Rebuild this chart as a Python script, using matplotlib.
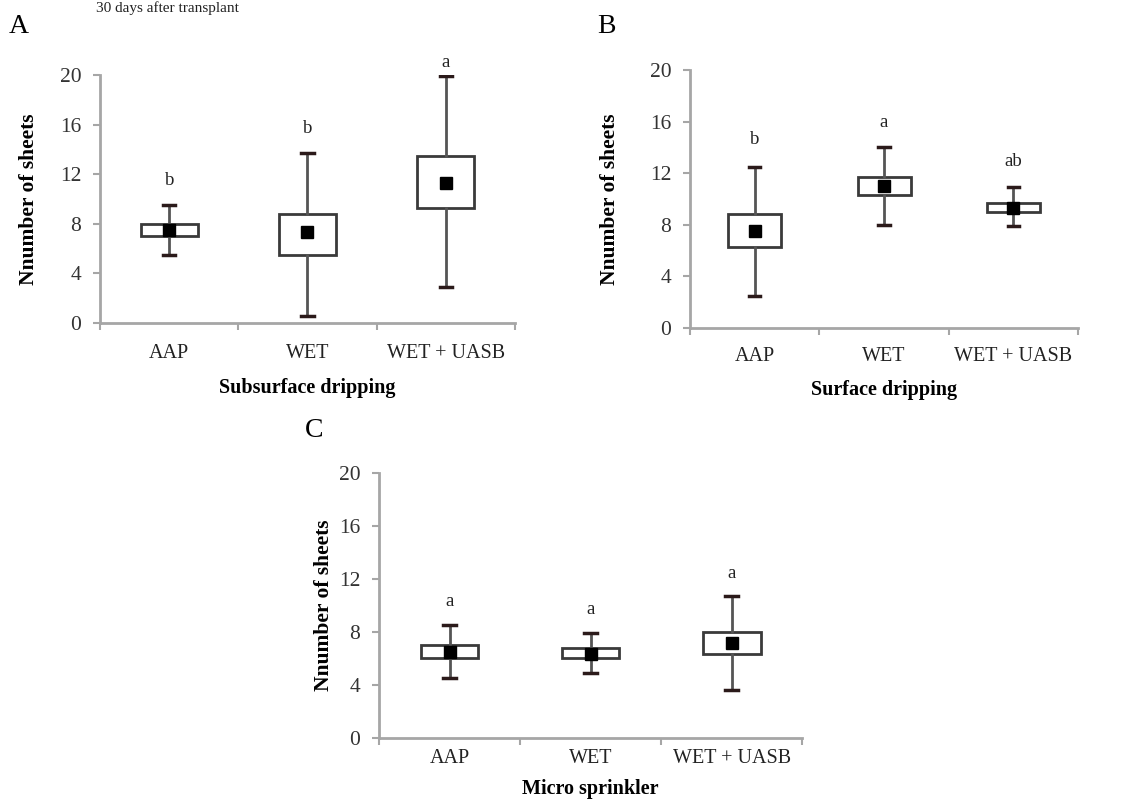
import matplotlib
matplotlib.use("Agg")
import matplotlib.pyplot as plt

# -----------------------------
# DATA
# -----------------------------
categories = ["AAP", "WET", "WET + UASB"]

# panel A - subsurface dripping
a_min = [5.5, 0.6, 2.9]
a_q1 = [7.0, 5.5, 9.3]
a_mean = [7.5, 7.3, 11.3]
a_q3 = [8.0, 8.8, 13.5]
a_max = [9.5, 13.7, 19.9]
a_letters = ["b", "b", "a"]
a_letter_y = [11.5, 15.7, 21.0]

# panel B - surface dripping
b_min = [2.5, 8.0, 7.9]
b_q1 = [6.3, 10.3, 9.0]
b_mean = [7.5, 11.0, 9.3]
b_q3 = [8.8, 11.7, 9.7]
b_max = [12.5, 14.0, 10.9]
b_letters = ["b", "a", "ab"]
b_letter_y = [14.6, 15.9, 12.9]

# panel C - micro sprinkler
c_min = [4.5, 4.9, 3.6]
c_q1 = [6.0, 6.0, 6.3]
c_mean = [6.5, 6.3, 7.2]
c_q3 = [7.0, 6.8, 8.0]
c_max = [8.5, 7.9, 10.7]
c_letters = ["a", "a", "a"]
c_letter_y = [10.3, 9.7, 12.4]

yticks = [0, 4, 8, 12, 16, 20]

SERIF = "Liberation Serif"
GREY = "#a6a6a6"


def make_stats(lo, q1, mean, q3, hi):
    stats = []
    for i in range(len(lo)):
        stats.append(dict(whislo=lo[i], q1=q1[i], med=mean[i], q3=q3[i],
                          whishi=hi[i], mean=mean[i], fliers=[]))
    return stats


def draw_panel(ax, stats, letters, letter_y, xlabel, tag, tag_xy,
               ypad, xpad, xlabpad):
    pos = list(range(1, len(categories) + 1))
    ax.bxp(stats, positions=pos, widths=0.41, capwidths=0.09,
           showmeans=True, showfliers=False, patch_artist=True,
           boxprops=dict(facecolor="white", edgecolor="#3a3a3a", linewidth=2),
           whiskerprops=dict(color="#555555", linewidth=2),
           capprops=dict(color="#2b1a1a", linewidth=2.5),
           medianprops=dict(linewidth=0),
           meanprops=dict(marker="s", markerfacecolor="black",
                          markeredgecolor="black", markersize=8.5))

    for x, t, y in zip(pos, letters, letter_y):
        ax.text(x, y, t, ha="center", va="center", fontsize=13.5,
                family=SERIF, color="#222222", clip_on=False)

    ax.set_xlim(0.5, 3.5)
    ax.set_ylim(0, 20)
    ax.set_yticks(yticks)
    ax.set_xticks(pos)
    ax.set_xticklabels(categories)
    ax.set_xticks([0.5, 1.5, 2.5, 3.5], minor=True)
    ax.tick_params(axis="x", which="major", length=0, pad=xpad,
                   labelsize=14.5, labelcolor="#222222")
    ax.tick_params(axis="x", which="minor", length=5, width=1.5,
                   color=GREY, direction="out")
    ax.tick_params(axis="y", length=5, width=1.5, color=GREY,
                   labelsize=15.5, labelcolor="#333333", pad=8.5)
    for lab in ax.get_xticklabels() + ax.get_yticklabels():
        lab.set_family(SERIF)

    ax.spines["top"].set_visible(False)
    ax.spines["right"].set_visible(False)
    for s in ["left", "bottom"]:
        ax.spines[s].set_color(GREY)
        ax.spines[s].set_linewidth(2)

    ax.set_ylabel("Nnumber of sheets", fontsize=15.5, fontweight="bold",
                  family=SERIF, labelpad=ypad)
    ax.set_xlabel(xlabel, fontsize=14.5, fontweight="bold", family=SERIF,
                  labelpad=xlabpad)

    fig = ax.figure
    fig.text(tag_xy[0], tag_xy[1], tag, fontsize=20, family=SERIF,
             ha="left", va="center")


def main():
    fig = plt.figure(figsize=(11.33, 8.01), dpi=100)

    ax_a = fig.add_axes([0.0883, 0.5968, 0.3662, 0.3096])
    ax_b = fig.add_axes([0.609, 0.5905, 0.3425, 0.3221])
    ax_c = fig.add_axes([0.3345, 0.0787, 0.3735, 0.3308])

    draw_panel(ax_a, make_stats(a_min, a_q1, a_mean, a_q3, a_max),
               a_letters, a_letter_y, "Subsurface dripping", "A",
               (0.008, 0.967), ypad=15, xpad=15, xlabpad=11)
    draw_panel(ax_b, make_stats(b_min, b_q1, b_mean, b_q3, b_max),
               b_letters, b_letter_y, "Surface dripping", "B",
               (0.527, 0.967), ypad=21, xpad=14, xlabpad=10)
    draw_panel(ax_c, make_stats(c_min, c_q1, c_mean, c_q3, c_max),
               c_letters, c_letter_y, "Micro sprinkler", "C",
               (0.269, 0.463), ypad=3, xpad=8, xlabpad=8)

    # caption line at the top edge of the source image
    fig.text(0.085, 0.999, "30 days after transplant", fontsize=11,
             family=SERIF, ha="left", va="top", color="#222222")

    fig.savefig("out.png", dpi=100)
    plt.close(fig)


if __name__ == "__main__":
    main()
